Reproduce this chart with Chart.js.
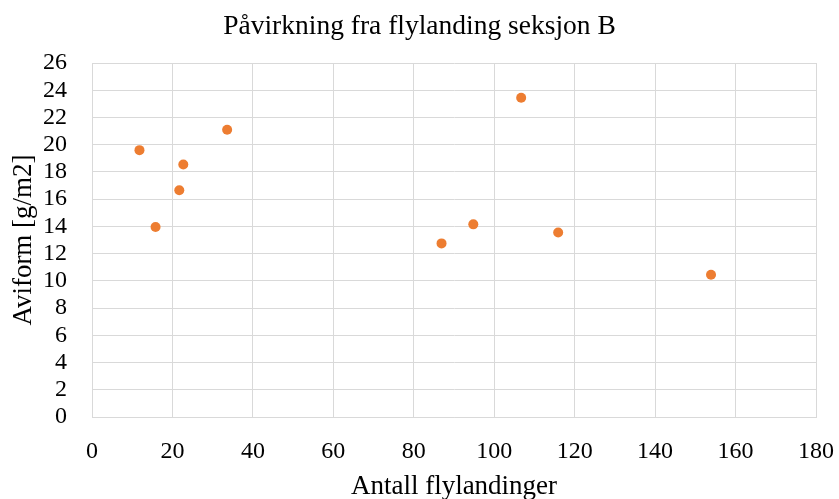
<!DOCTYPE html>
<html>
<head>
<meta charset="utf-8">
<script src="https://cdn.jsdelivr.net/npm/chart.js@4/dist/chart.umd.min.js"></script>
<style>
html,body{margin:0;padding:0;background:#fff;}
#wrap{width:839px;height:499px;position:relative;}
</style>
</head>
<body>
<div id="wrap"><canvas id="c"></canvas></div>
<script>
const chartTitle = "Påvirkning fra flylanding seksjon B";
const xTitle = "Antall flylandinger";
const yTitle = "Aviform [g/m2]";
const flylandinger = [11.8, 15.8, 21.7, 22.7, 33.6, 86.9, 94.8, 106.7, 115.9, 153.9];
const aviform = [19.6, 13.95, 16.65, 18.55, 21.1, 12.75, 14.15, 23.45, 13.55, 10.45];
const xTicks = [0, 20, 40, 60, 80, 100, 120, 140, 160, 180];
const yTicks = [0, 2, 4, 6, 8, 10, 12, 14, 16, 18, 20, 22, 24, 26];

const points = flylandinger.map((x, i) => ({x: x, y: aviform[i]}));
const serif = "'Liberation Serif', 'Times New Roman', serif";

new Chart(document.getElementById('c'), {
  type: 'scatter',
  data: {
    datasets: [{
      label: 'Aviform',
      data: points,
      backgroundColor: '#ED7D31',
      borderColor: '#ED7D31',
      pointRadius: 5,
      pointHoverRadius: 5,
      borderWidth: 0
    }]
  },
  options: {
    responsive: true,
    maintainAspectRatio: false,
    animation: false,
    layout: {padding: 0},
    plugins: {
      legend: {display: false},
      tooltip: {enabled: false},
      title: {
        display: true,
        text: chartTitle,
        color: '#000',
        font: {family: serif, size: 27.5, weight: 'normal'},
        padding: {top: 10, bottom: 20}
      }
    },
    scales: {
      x: {
        type: 'linear',
        min: xTicks[0],
        max: xTicks[xTicks.length - 1],
        afterBuildTicks: s => { s.ticks = xTicks.map(v => ({value: v})); },
        afterFit: s => { s.height = 82; s.paddingLeft = 0; s.paddingRight = 23; },
        grid: {color: '#d9d9d9', lineWidth: 1, drawTicks: false},
        border: {color: '#d9d9d9'},
        ticks: {color: '#000', font: {family: serif, size: 24}, padding: 20, maxRotation: 0, autoSkip: false},
        title: {display: true, text: xTitle, color: '#000', font: {family: serif, size: 27}, padding: {top: 0, bottom: -4}}
      },
      y: {
        type: 'linear',
        min: yTicks[0],
        max: yTicks[yTicks.length - 1],
        afterBuildTicks: s => { s.ticks = yTicks.map(v => ({value: v})); },
        afterFit: s => { s.width = 92; s.paddingTop = 0; s.paddingBottom = 0; },
        grid: {color: '#d9d9d9', lineWidth: 1, drawTicks: false},
        border: {color: '#d9d9d9'},
        ticks: {color: '#000', font: {family: serif, size: 24}, padding: 25, autoSkip: false},
        title: {display: true, text: yTitle, color: '#000', font: {family: serif, size: 27}, padding: {top: 8, bottom: 0}}
      }
    }
  }
});
</script>
</body>
</html>
